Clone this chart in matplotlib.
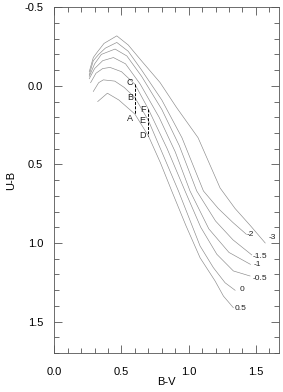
import matplotlib.pyplot as plt
from matplotlib.ticker import MultipleLocator

plt.rcParams['font.family'] = ['Liberation Sans', 'DejaVu Sans']

# curve labels (metallicity) and the read-off points of each curve
names = ["-3", "-2", "-1.5", "-1", "-0.5", "0", "0.5"]

bv_m30 = [0.26, 0.29, 0.32, 0.37, 0.465, 0.55, 0.638, 0.787, 0.91, 1.07, 1.234, 1.345, 1.46, 1.57]
ub_m30 = [-0.09, -0.18, -0.215, -0.27, -0.318, -0.26, -0.17, -0.021, 0.138, 0.33, 0.65, 0.78, 0.89, 1.0]

bv_m20 = [0.26, 0.29, 0.33, 0.38, 0.465, 0.55, 0.65, 0.80, 0.95, 1.11, 1.22, 1.33, 1.43]
ub_m20 = [-0.07, -0.16, -0.20, -0.24, -0.276, -0.22, -0.10, 0.09, 0.33, 0.669, 0.78, 0.87, 0.945]

bv_m15 = [0.26, 0.30, 0.35, 0.452, 0.54, 0.65, 0.80, 0.93, 1.06, 1.20, 1.33, 1.47]
ub_m15 = [-0.06, -0.14, -0.20, -0.234, -0.19, -0.06, 0.15, 0.38, 0.669, 0.86, 0.98, 1.076]

bv_m10 = [0.26, 0.30, 0.36, 0.44, 0.53, 0.64, 0.78, 0.90, 1.01, 1.15, 1.30, 1.46]
ub_m10 = [-0.045, -0.11, -0.16, -0.18, -0.14, -0.01, 0.20, 0.42, 0.669, 0.91, 1.06, 1.136]

bv_m05 = [0.27, 0.31, 0.36, 0.415, 0.50, 0.60, 0.70, 0.84, 0.973, 1.09, 1.21, 1.333, 1.457]
ub_m05 = [-0.02, -0.08, -0.11, -0.117, -0.09, -0.01, 0.148, 0.40, 0.669, 0.90, 1.072, 1.178, 1.21]

bv_p00 = [0.29, 0.33, 0.365, 0.45, 0.52, 0.60, 0.70, 0.81, 0.924, 1.085, 1.184, 1.271, 1.346]
ub_p00 = [0.036, -0.02, -0.038, -0.03, 0.01, 0.075, 0.22, 0.44, 0.669, 1.019, 1.157, 1.253, 1.301]

bv_p05 = [0.323, 0.395, 0.48, 0.60, 0.70, 0.79, 0.874, 0.98, 1.085, 1.197, 1.259, 1.333]
ub_p05 = [0.10, 0.047, 0.09, 0.18, 0.318, 0.49, 0.669, 0.89, 1.094, 1.242, 1.338, 1.412]

curves = [(bv_m30, ub_m30), (bv_m20, ub_m20), (bv_m15, ub_m15), (bv_m10, ub_m10),
          (bv_m05, ub_m05), (bv_p00, ub_p00), (bv_p05, ub_p05)]

# where the curve names sit
name_x = [1.62, 1.458, 1.532, 1.51, 1.532, 1.398, 1.383]
name_y = [0.968, 0.943, 1.083, 1.14, 1.223, 1.299, 1.414]

# the two dashed connectors and their letters
dash1_x = [0.601, 0.601]
dash1_y = [-0.01, 0.18]
dash2_x = [0.70, 0.70]
dash2_y = [0.148, 0.318]
letters = ["C", "B", "A", "F", "E", "D"]
letter_x = [0.564, 0.564, 0.564, 0.663, 0.658, 0.658]
letter_y = [-0.021, 0.075, 0.206, 0.148, 0.219, 0.314]

fig = plt.figure(figsize=(2.83, 3.92), dpi=100)
ax = fig.add_axes([0.192, 0.0995, 0.795, 0.882])

for (bv, ub) in curves:
    ax.plot(bv, ub, color="#8a8a8a", lw=0.45)

for n, x, y in zip(names, name_x, name_y):
    ax.text(x, y, n, fontsize=6, ha="center", va="center", color="#222222")

ax.plot(dash1_x, dash1_y, color="black", lw=0.7, ls=(0, (3, 1.5)))
ax.plot(dash2_x, dash2_y, color="black", lw=0.7, ls=(0, (3, 1.5)))
for l, x, y in zip(letters, letter_x, letter_y):
    ax.text(x, y, l, fontsize=6.5, ha="center", va="center", color="#222222")

ax.set_xlim(0, 1.675)
ax.set_ylim(1.7, -0.5)
ax.xaxis.set_major_locator(MultipleLocator(0.5))
ax.xaxis.set_minor_locator(MultipleLocator(0.1))
ax.yaxis.set_major_locator(MultipleLocator(0.5))
ax.yaxis.set_minor_locator(MultipleLocator(0.1))
ax.xaxis.set_major_formatter(plt.FormatStrFormatter("%.1f"))
ax.yaxis.set_major_formatter(plt.FormatStrFormatter("%.1f"))
ax.tick_params(which="both", direction="in", top=True, right=True,
               color="#555555", width=0.6, labelsize=8)
ax.tick_params(axis="x", pad=10)
ax.tick_params(axis="y", pad=8)
ax.tick_params(which="major", length=6)
ax.tick_params(which="minor", length=3.5)
for s in ax.spines.values():
    s.set_color("#555555")
    s.set_linewidth(0.6)

ax.set_xlabel("B-V", fontsize=8, labelpad=0)
ax.set_ylabel("U-B", fontsize=8, labelpad=6)

fig.savefig("out.png", dpi=100)
